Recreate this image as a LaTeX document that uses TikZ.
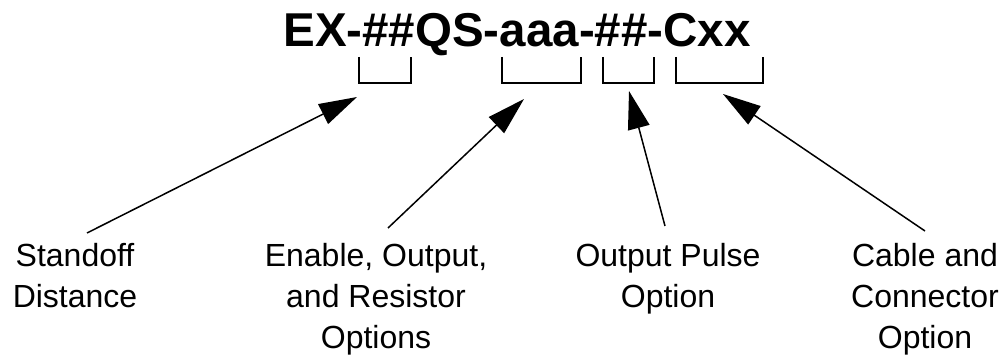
\documentclass[tikz,border=0pt]{standalone}
\usepackage{fontspec}
\setmainfont{Liberation Sans}
\usetikzlibrary{arrows.meta}
\begin{document}
\begin{tikzpicture}[x=1pt,y=-1pt,
  partno/.style={font=\fontsize{47.5}{50}\selectfont\bfseries, inner sep=0pt, anchor=base},
  caption/.style={font=\fontsize{32}{41}\selectfont, align=center, inner sep=0pt, anchor=base},
  bracket/.style={line width=1.5pt, line join=miter},
  pointer/.style={line width=1.5pt, -{Triangle[length=38pt,width=22pt]}}]
  \useasboundingbox (0,0) rectangle (1005,355);

  % part number
  \node[partno] (pn) at (517,47) {EX-\#\#QS-aaa-\#\#-Cxx};

  % brackets under the fields
  \draw[bracket] (359,57) -- (359,83) -- (411,83) -- (411,57);
  \draw[bracket] (502,57) -- (502,83) -- (581,83) -- (581,57);
  \draw[bracket] (603,57) -- (603,83) -- (654,83) -- (654,57);
  \draw[bracket] (676,57) -- (676,83) -- (763,83) -- (763,57);

  % captions (placed by the baseline of their last line)
  \node[caption] (sd) at (75,308) {Standoff\\Distance};
  \node[caption] (eo) at (376,349) {Enable, Output,\\and Resistor\\Options};
  \node[caption] (op) at (668,308) {Output Pulse\\Option};
  \node[caption] (cc) at (925,349) {Cable and\\Connector\\Option};

  % pointer ends
  \coordinate (sdT) at (87,233);   \coordinate (sdH) at (357,97);
  \coordinate (eoT) at (388,228);  \coordinate (eoH) at (524,99);
  \coordinate (opT) at (665,226);  \coordinate (opH) at (629,91);
  \coordinate (ccT) at (925,231);  \coordinate (ccH) at (723,94);

  \draw[pointer] (sdT) -- (sdH);
  \draw[pointer] (eoT) -- (eoH);
  \draw[pointer] (opT) -- (opH);
  \draw[pointer] (ccT) -- (ccH);
\end{tikzpicture}
\end{document}
